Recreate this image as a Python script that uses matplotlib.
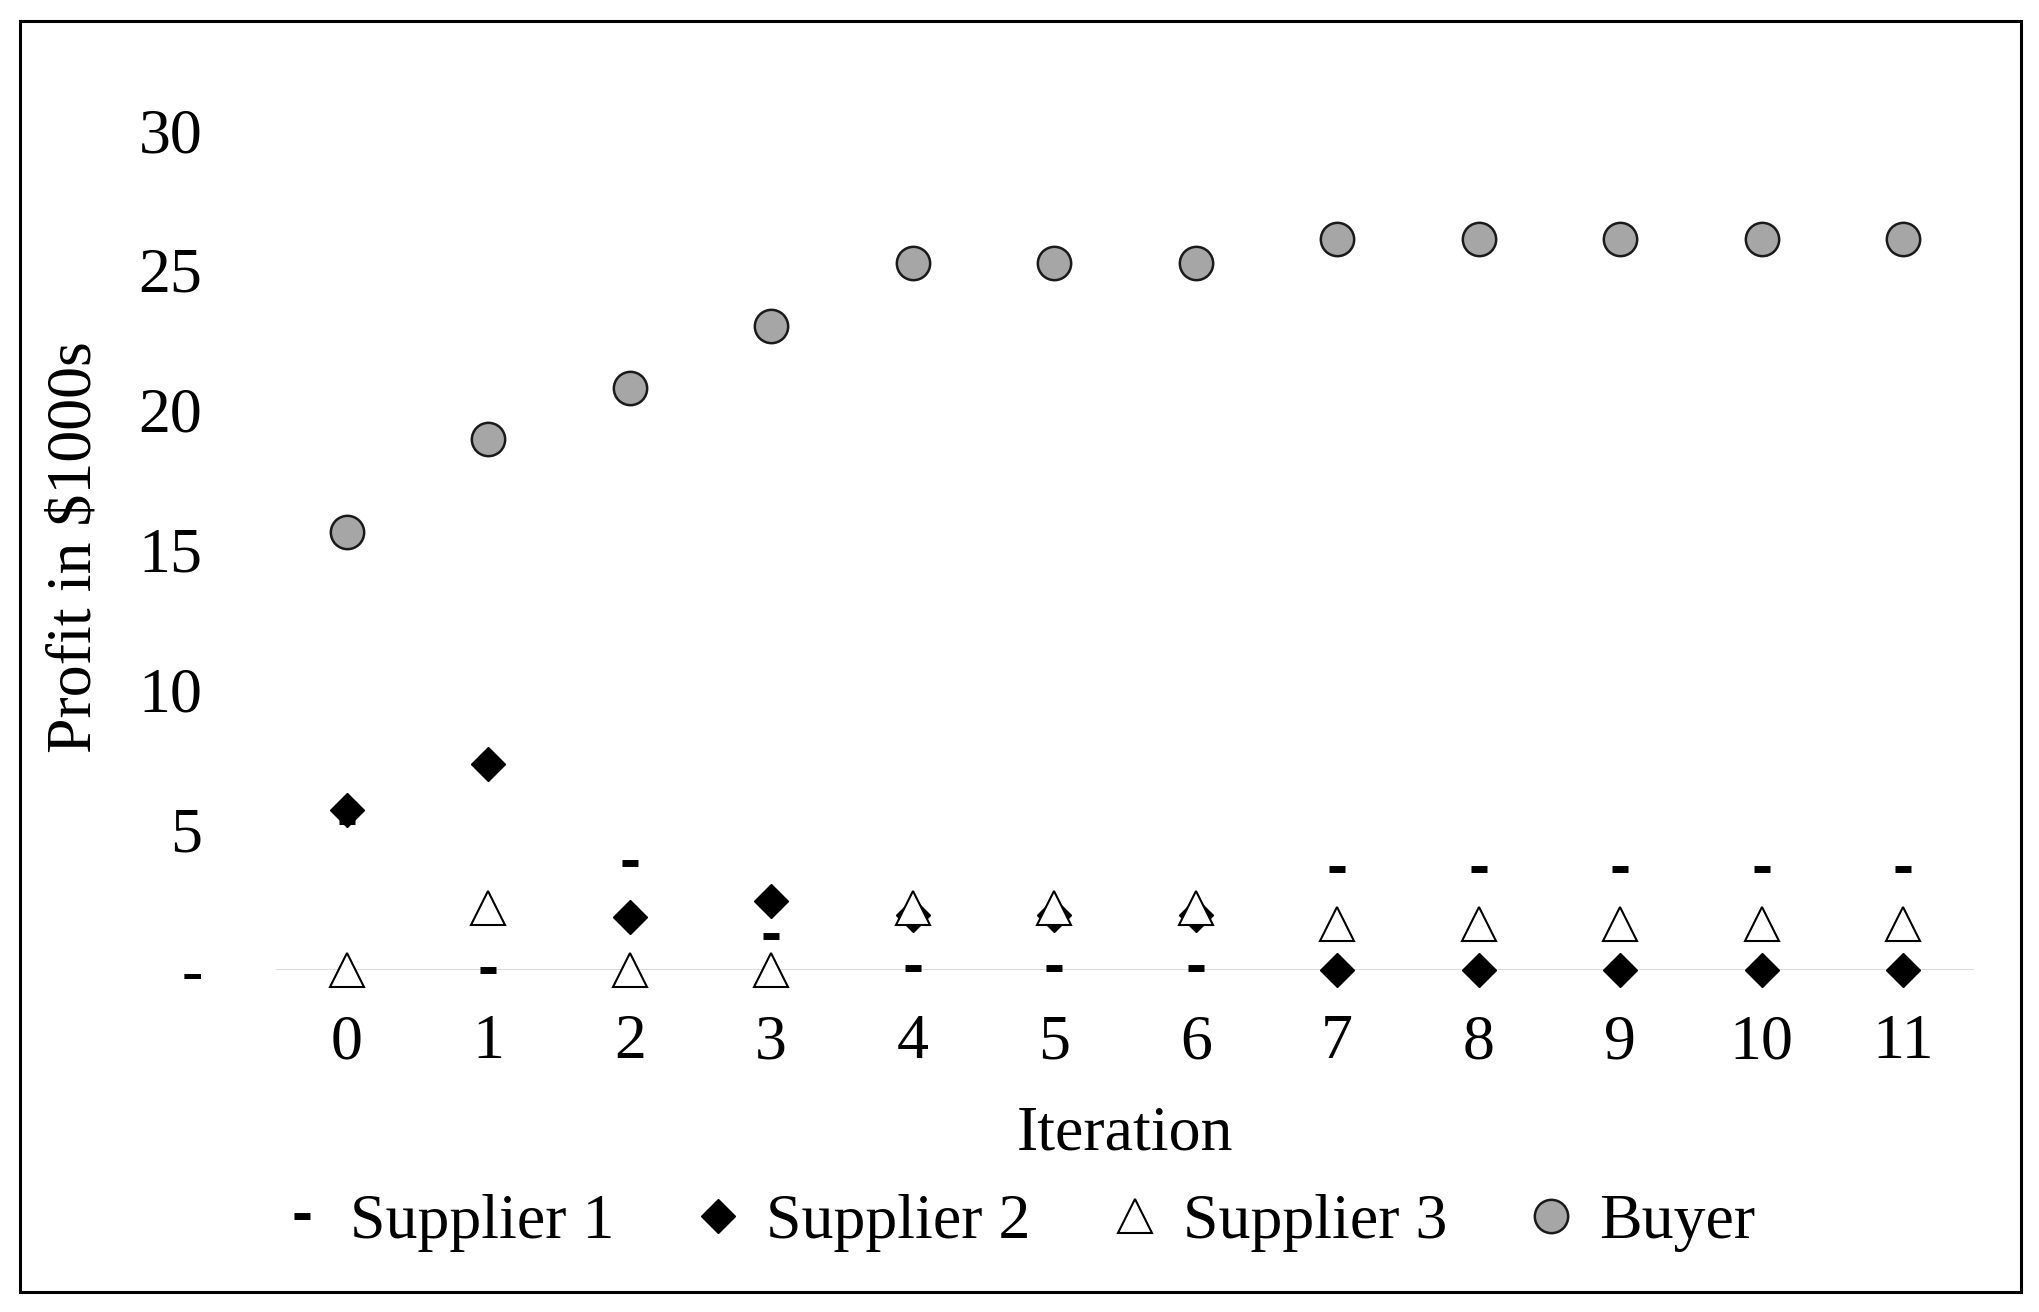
import numpy as np
import matplotlib
matplotlib.use("Agg")
import matplotlib.pyplot as plt
from matplotlib.patches import Rectangle

# data (profit in $1000s)
iterations = list(range(12))
supplier1 = [5.3, 0.0, 3.8, 1.2, 0.05, 0.05, 0.05, 3.6, 3.6, 3.6, 3.6, 3.6]
supplier2 = [5.7, 7.35, 1.9, 2.45, 1.97, 1.97, 1.97, 0.0, 0.0, 0.0, 0.0, 0.0]
supplier3 = [0.0, 2.2, 0.0, 0.0, 2.2, 2.2, 2.2, 1.63, 1.63, 1.63, 1.63, 1.63]
buyer = [15.65, 18.95, 20.8, 23.0, 25.25, 25.25, 25.25, 26.1, 26.1, 26.1, 26.1, 26.1]
ytick_vals = [0, 5, 10, 15, 20, 25, 30]
ytick_labels = ["-", "5", "10", "15", "20", "25", "30"]

plt.rcParams["font.family"] = ["Liberation Serif", "DejaVu Serif"]
fs = 46

fig = plt.figure(figsize=(20.4, 13.12), dpi=100)
ax = fig.add_axes([0.1353, 0.2609, 0.8323, 0.64])

# gray zero line
ax.axhline(0, color="#d0d0d0", lw=1.8, zorder=1)

ax.plot(iterations, supplier1, ls="none", marker="_", ms=11.5, mew=5,
        color="black", label="Supplier 1", zorder=3, clip_on=False)
ax.plot(iterations, supplier2, ls="none", marker="D", ms=17,
        color="black", mec="black", label="Supplier 2", zorder=3, clip_on=False)
ax.plot(iterations, supplier3, ls="none", marker="^", ms=24, mfc="white",
        mec="black", mew=1.5, label="Supplier 3", zorder=4, clip_on=False)
ax.plot(iterations, buyer, ls="none", marker="o", ms=24, mfc="#a6a6a6",
        mec="#1a1a1a", mew=1.8, label="Buyer", zorder=3, clip_on=False)

ax.set_xlim(-0.5, 11.5)
ax.set_ylim(0, 30)
ax.set_xticks(iterations)
ax.set_yticks(ytick_vals)
ax.set_yticklabels(ytick_labels)
ax.tick_params(axis="both", length=0, labelsize=fs)
ax.tick_params(axis="y", pad=53)
ax.tick_params(axis="x", pad=32)
for s in ax.spines.values():
    s.set_visible(False)

ax.set_xlabel("Iteration", fontsize=fs, labelpad=24)
fig.text(0.037, 0.583, "Profit in $1000s", rotation=90, fontsize=fs,
         ha="center", va="center")

fig.legend(loc="center", bbox_to_anchor=(0.4955, 0.068), ncol=4, frameon=False,
           fontsize=fs, handletextpad=0.2, columnspacing=1.08, handlelength=1.1)

# outer frame
fig.patches.append(Rectangle((0.0098, 0.015), 0.981, 0.969, transform=fig.transFigure,
                             fill=False, edgecolor="black", lw=2.2))

fig.savefig("out.png", dpi=100)
